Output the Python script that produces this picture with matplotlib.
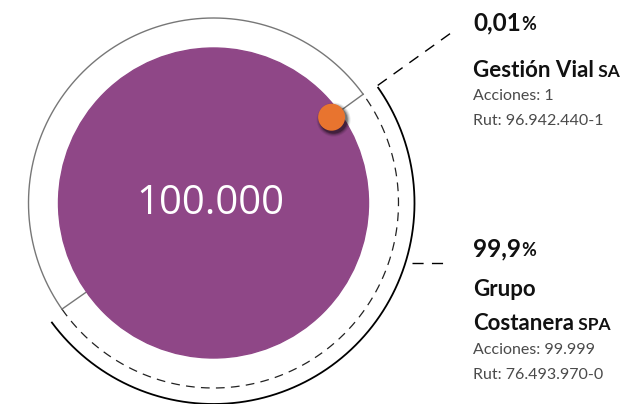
import matplotlib.pyplot as plt
from matplotlib.patches import Circle
import numpy as np

# shareholder data
total_label = "100.000"
shares = [1, 99999]
pct_labels = ["0,01", "99,9"]
name_lines = [["Gestión Vial"], ["Grupo", "Costanera"]]
suffixes = ["SA", "SPA"]
acciones = ["1", "99.999"]
ruts = ["96.942.440-1", "76.493.970-0"]

purple = "#8f4787"
orange = "#e8742f"
gray = "#4a4a4a"
ink = "#111111"

W, H = 631, 404
fig = plt.figure(figsize=(W / 100, H / 100), dpi=100)
ax = fig.add_axes([0, 0, 1, 1])
ax.set_xlim(0, W)
ax.set_ylim(0, H)
ax.axis("off")

cx, cy = 213.5, H - 203
r_in, r_mid, r_out = 155, 185, 201
a_split = 36.0      # where the small holder sits
a_low = 215.0


def arc(r, t1, t2, **kw):
    t = np.radians(np.linspace(t1, t2, 300))
    ax.plot(cx + r * np.cos(t), cy + r * np.sin(t), **kw)


def radial(a, r1, r2, **kw):
    t = np.radians(a)
    ax.plot([cx + r1 * np.cos(t), cx + r2 * np.cos(t)],
            [cy + r1 * np.sin(t), cy + r2 * np.sin(t)], **kw)


# main disc
ax.add_patch(Circle((cx, cy), r_in, color=purple, zorder=2))
ax.text(cx - 3, cy - 1, total_label, color="white", fontsize=29,
        family="Open Sans", ha="center", va="center", zorder=5)

# outer rings
arc(r_mid, a_split, a_low, color="#777777", lw=1.0, zorder=1)
arc(r_mid, a_low, a_split + 360, color="#222222", lw=0.9,
    ls=(0, (7, 5)), zorder=1)
arc(r_out, a_low + 1.5, a_split + 359, color="black", lw=1.3, zorder=1)
radial(a_split, r_in - 9, r_mid, color="#777777", lw=1.0, zorder=1)
radial(a_low, r_in, r_mid, color="#777777", lw=1.0, zorder=1)

# leader lines
radial(a_split - 0.4, r_out + 1, 291, color="black", lw=1.0,
       ls=(0, (8, 6)), zorder=1)
ax.plot([412, 443], [H - 263, H - 263], color="black", lw=1.0,
        ls=(0, (8, 6)))

# orange marker with soft shadow
t = np.radians(a_split)
dx, dy = cx + (r_in - 9) * np.cos(t), cy + (r_in - 9) * np.sin(t)
for k, al in zip([3.5, 2.5, 1.5, 0.5], [0.08, 0.12, 0.18, 0.3]):
    ax.add_patch(Circle((dx + 2, dy - 2.5), 13.5 + k, color="black",
                        alpha=al, lw=0, zorder=3))
ax.add_patch(Circle((dx, dy), 13.5, color=orange, lw=0, zorder=4))

# labels on the right
tx = 473
fam = "Lato"
renderer = fig.canvas.get_renderer()


def tail(txt, s, size):
    # small text glued to the end of txt on the same baseline
    x1 = ax.transData.inverted().transform(
        txt.get_window_extent(renderer))[1][0]
    ax.text(x1, txt.get_position()[1], s, fontsize=size, fontweight="bold",
            family=fam, va="baseline", color=ink)


blocks = [
    dict(pct=H - 30, name=[H - 77], acc=H - 96, rut=H - 121),
    dict(pct=H - 256, name=[H - 296, H - 330], acc=H - 350, rut=H - 375),
]
for i, b in enumerate(blocks):
    p = ax.text(tx, b["pct"], pct_labels[i], fontsize=17.5, fontweight="bold",
                family=fam, va="baseline", color=ink)
    tail(p, "%", 13)
    for j, ny in enumerate(b["name"]):
        nt = ax.text(tx, ny, name_lines[i][j], fontsize=16, fontweight="bold",
                     family=fam, va="baseline", color=ink)
    tail(nt, " " + suffixes[i], 12.5)
    ax.text(tx, b["acc"], "Acciones: " + acciones[i], fontsize=11.5,
            family=fam, va="center", color=gray)
    ax.text(tx, b["rut"], "Rut: " + ruts[i], fontsize=11.5,
            family=fam, va="center", color=gray)

fig.savefig("out.png", dpi=100)
